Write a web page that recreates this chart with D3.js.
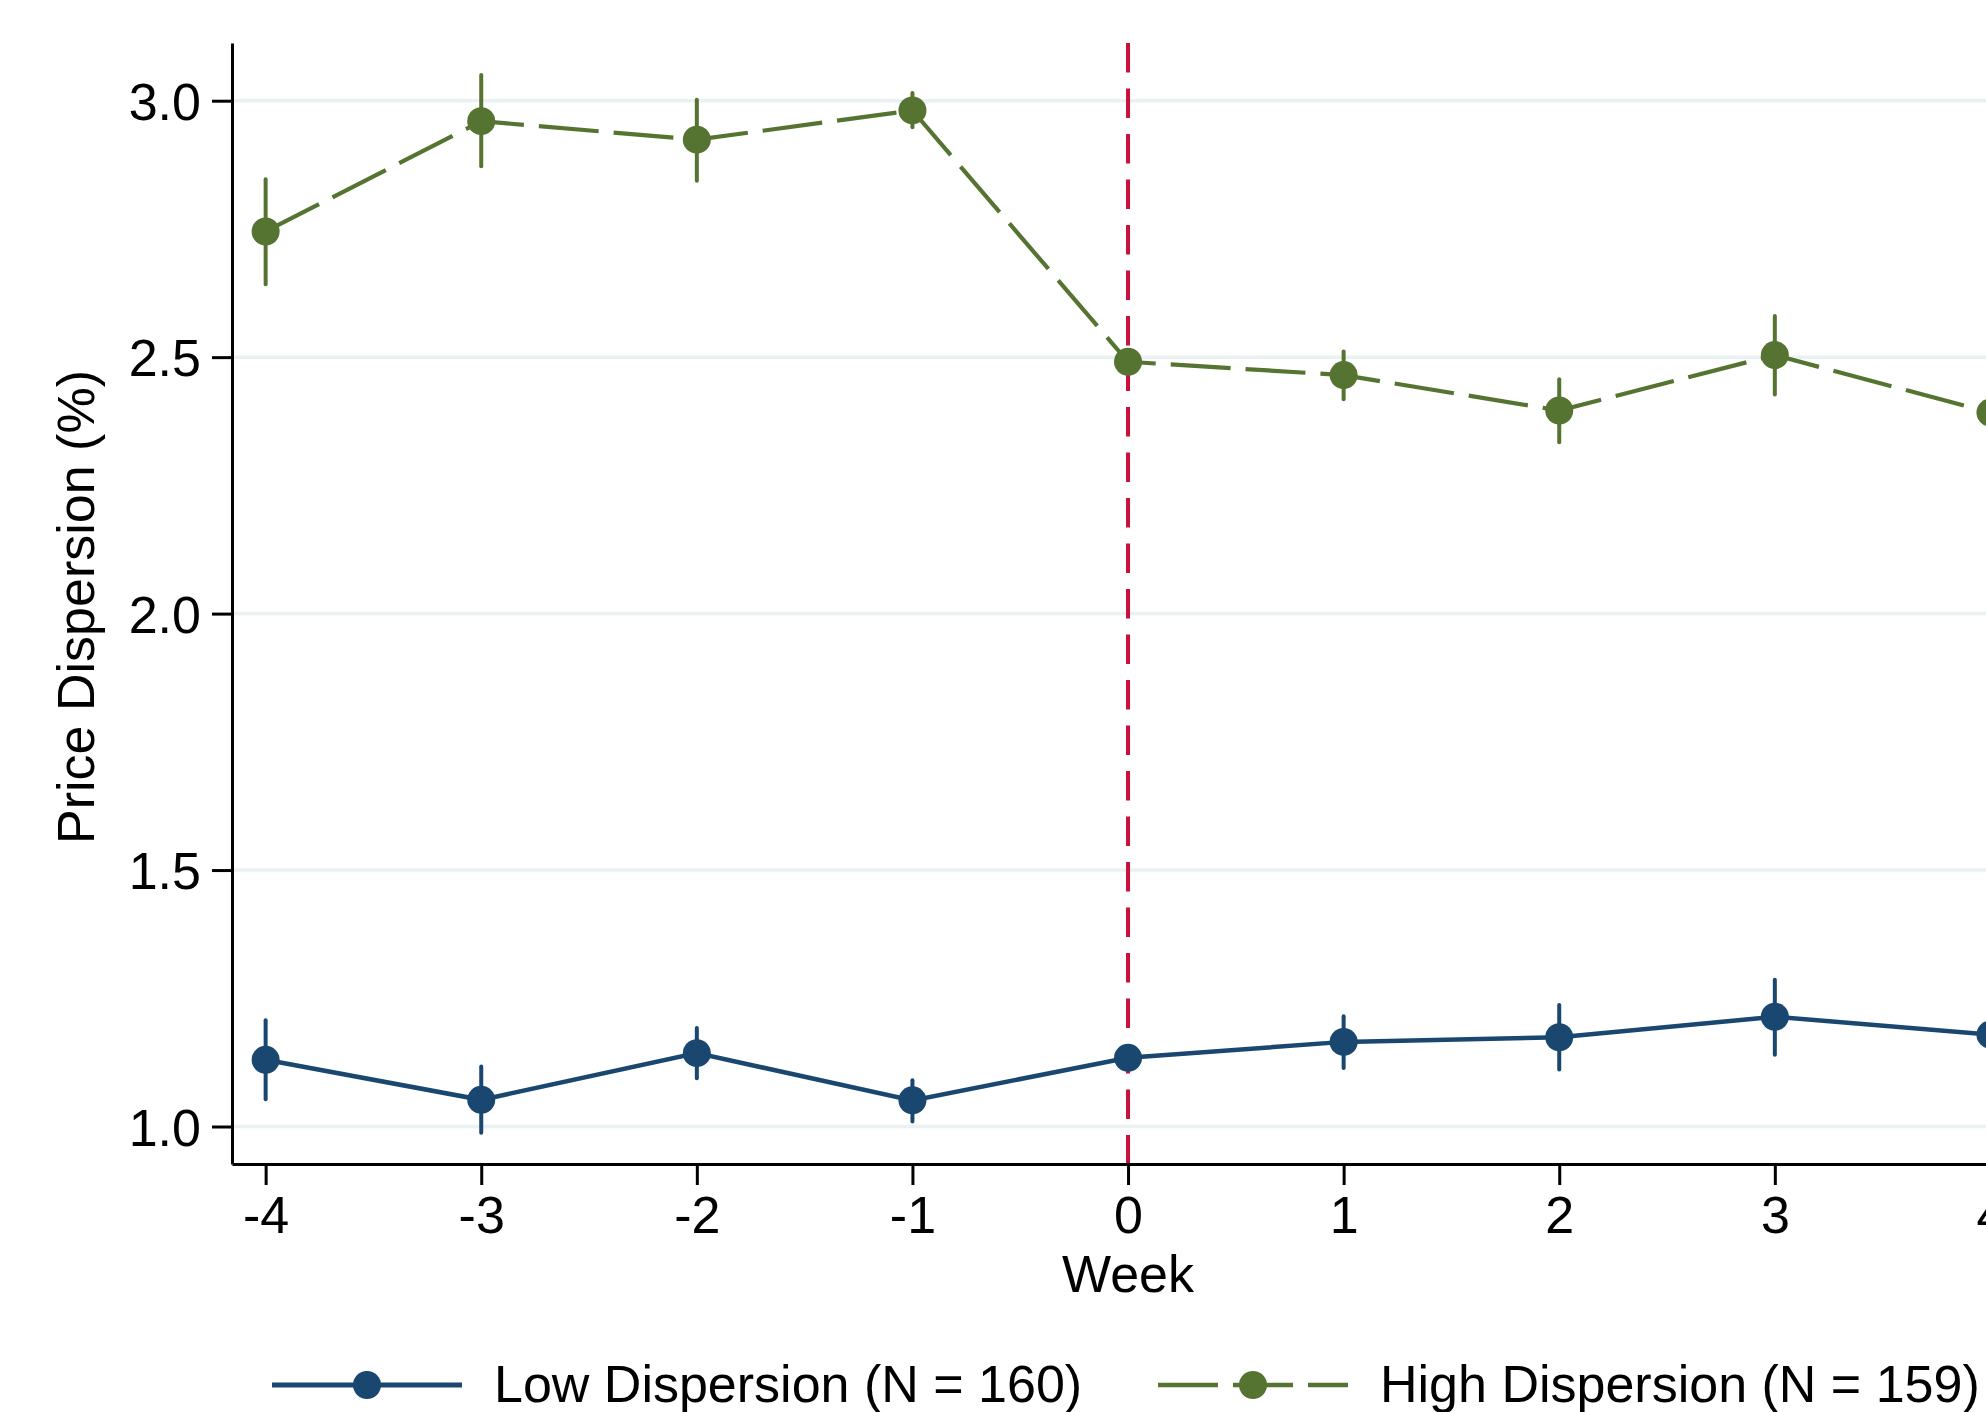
<!DOCTYPE html>
<html>
<head>
<meta charset="utf-8">
<script src="https://cdn.jsdelivr.net/npm/d3@7"></script>
<style>
  body { margin: 0; background: #fff; }
  svg { display: block; font-family: "Liberation Sans", Arial, sans-serif; }
</style>
</head>
<body>
<svg id="chart"></svg>
<script>
// data
var weeks = [-4, -3, -2, -1, 0, 1, 2, 3, 4];
var lowMean = [1.130, 1.052, 1.143, 1.051, 1.134, 1.165, 1.174, 1.214, 1.179];
var lowLo   = [1.053, 0.988, 1.094, 1.010, 1.115, 1.114, 1.111, 1.140, 1.120];
var lowHi   = [1.207, 1.117, 1.192, 1.090, 1.153, 1.215, 1.237, 1.286, 1.240];
var highMean = [2.745, 2.960, 2.924, 2.981, 2.491, 2.465, 2.396, 2.504, 2.392];
var highLo   = [2.642, 2.872, 2.844, 2.948, 2.470, 2.418, 2.334, 2.427, 2.330];
var highHi   = [2.847, 3.050, 3.002, 3.015, 2.510, 2.511, 2.457, 2.580, 2.450];
var yTicks = [1.0, 1.5, 2.0, 2.5, 3.0];
var xTicks = [-4, -3, -2, -1, 0, 1, 2, 3, 4];
var eventWeek = 0;
var seriesNames = ["Low Dispersion (N = 160)", "High Dispersion (N = 159)"];

var w = 1986, h = 1412;
var navy = "#1a476f", green = "#567431", red = "#c8103c", grid = "#eaf1f3";
var fs = 52;

var svg = d3.select("#chart").attr("width", w).attr("height", h);

var x = d3.scaleLinear().domain([-4.156, 4.5]).range([232, 232 + 8.656 * 215.6]);
var y = d3.scaleLinear().domain([0.9269, 3.1125]).range([1164, 43]);

// gridlines
svg.append("g").selectAll("line")
  .data(yTicks)
  .enter()
  .append("line")
  .attr("x1", x.range()[0]).attr("x2", w)
  .attr("y1", function(d) { return y(d); })
  .attr("y2", function(d) { return y(d); })
  .attr("stroke", grid)
  .attr("stroke-width", 3.5);

// event line
svg.append("line")
  .attr("x1", x(eventWeek)).attr("x2", x(eventWeek))
  .attr("y1", y.range()[1]).attr("y2", y.range()[0])
  .attr("stroke", red)
  .attr("stroke-width", 4)
  .attr("stroke-dasharray", "29.5,16");

// axes
var yAxis = svg.append("g")
  .attr("transform", "translate(" + x.range()[0] + ",0)")
  .call(d3.axisLeft(y).tickValues(yTicks).tickFormat(d3.format(".1f"))
    .tickSize(20).tickSizeOuter(0).tickPadding(11));

var xAxis = svg.append("g")
  .attr("transform", "translate(0," + y.range()[0] + ")")
  .call(d3.axisBottom(x).tickValues(xTicks).tickFormat(function(d) { return String(d); })
    .tickSize(21).tickSizeOuter(0).tickPadding(11));

[yAxis, xAxis].forEach(function(g) {
  g.select(".domain").attr("stroke", "#000").attr("stroke-width", 3);
  g.selectAll(".tick line").attr("stroke", "#000").attr("stroke-width", 3);
  g.selectAll(".tick text").attr("fill", "#000").style("font-size", fs + "px")
    .style("font-family", "'Liberation Sans', Arial, sans-serif");
});
yAxis.selectAll(".tick text").attr("dy", "0.36em");

// axis titles
svg.append("text")
  .attr("x", x(eventWeek)).attr("y", 1292)
  .attr("text-anchor", "middle")
  .style("font-size", fs + "px")
  .text("Week");

svg.append("text")
  .attr("transform", "translate(94,607) rotate(-90)")
  .attr("text-anchor", "middle")
  .style("font-size", fs + "px")
  .text("Price Dispersion (%)");

// series
var series = [
  { mean: lowMean, lo: lowLo, hi: lowHi, color: navy, dash: null, width: 4.5 },
  { mean: highMean, lo: highLo, hi: highHi, color: green, dash: "60,15", width: 4.2 }
];

var line = d3.line()
  .x(function(d) { return x(d.week); })
  .y(function(d) { return y(d.v); });

series.forEach(function(s) {
  var pts = weeks.map(function(wk, i) {
    return { week: wk, v: s.mean[i], lo: s.lo[i], hi: s.hi[i] };
  });

  svg.append("g").selectAll("line")
    .data(pts)
    .enter()
    .append("line")
    .attr("x1", function(d) { return x(d.week); })
    .attr("x2", function(d) { return x(d.week); })
    .attr("y1", function(d) { return y(d.lo); })
    .attr("y2", function(d) { return y(d.hi); })
    .attr("stroke", s.color)
    .attr("stroke-width", 4)
    .attr("stroke-linecap", "round");

  svg.append("path")
    .datum(pts)
    .attr("d", line)
    .attr("fill", "none")
    .attr("stroke", s.color)
    .attr("stroke-width", s.width)
    .attr("stroke-dasharray", s.dash);

  svg.append("g").selectAll("circle")
    .data(pts)
    .enter()
    .append("circle")
    .attr("cx", function(d) { return x(d.week); })
    .attr("cy", function(d) { return y(d.v); })
    .attr("r", 14)
    .attr("fill", s.color);
});

// legend
var legendItems = [
  { x0: 272, x1: 462, tx: 494 },
  { x0: 1158, x1: 1348, tx: 1380 }
];
var legendY = 1385;

legendItems.forEach(function(item, i) {
  var s = series[i];
  svg.append("line")
    .attr("x1", item.x0).attr("x2", item.x1)
    .attr("y1", legendY).attr("y2", legendY)
    .attr("stroke", s.color)
    .attr("stroke-width", s.width + 0.5)
    .attr("stroke-dasharray", s.dash);

  svg.append("circle")
    .attr("cx", (item.x0 + item.x1) / 2)
    .attr("cy", legendY)
    .attr("r", 14)
    .attr("fill", s.color);

  svg.append("text")
    .attr("x", item.tx).attr("y", 1402)
    .style("font-size", fs + "px")
    .text(seriesNames[i]);
});
</script>
</body>
</html>
